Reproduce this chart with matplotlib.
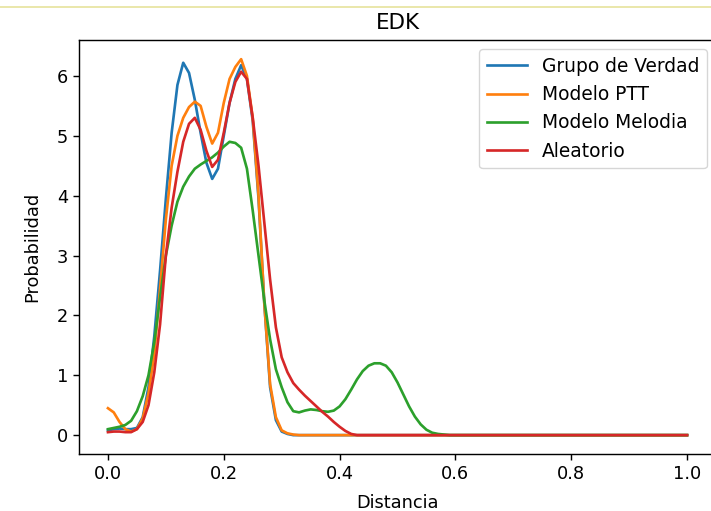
import numpy as np
import matplotlib
matplotlib.use("Agg")
import matplotlib.pyplot as plt
from matplotlib.lines import Line2D

x_vals = [round(0.01 * i, 2) for i in range(61)] + [1.0]

grupo_verdad = [0.08, 0.10, 0.11, 0.10, 0.10, 0.12, 0.30, 0.80, 1.65, 2.75,
                3.95, 5.05, 5.85, 6.22, 6.05, 5.60, 5.05, 4.55, 4.28, 4.45,
                5.00, 5.55, 5.95, 6.18, 5.95, 5.25, 3.95, 2.20, 0.80, 0.25,
                0.06, 0.02] + [0.0] * 30
modelo_ptt = [0.45, 0.38, 0.22, 0.10, 0.06, 0.10, 0.28, 0.70, 1.35, 2.45,
              3.60, 4.50, 5.00, 5.30, 5.48, 5.57, 5.50, 5.15, 4.87, 5.05,
              5.55, 5.95, 6.15, 6.28, 6.00, 5.30, 4.00, 2.20, 0.85, 0.30,
              0.08, 0.03, 0.01] + [0.0] * 29
modelo_melodia = [0.10, 0.12, 0.14, 0.17, 0.24, 0.40, 0.65, 1.00, 1.55, 2.30,
                  3.00, 3.50, 3.90, 4.15, 4.32, 4.45, 4.52, 4.58, 4.64, 4.72,
                  4.82, 4.90, 4.88, 4.80, 4.45, 3.75, 3.00, 2.25, 1.60, 1.10,
                  0.80, 0.55, 0.40, 0.38, 0.41, 0.43, 0.42, 0.40, 0.39, 0.41,
                  0.48, 0.60, 0.76, 0.93, 1.07, 1.16, 1.20, 1.20, 1.16, 1.05,
                  0.88, 0.68, 0.48, 0.31, 0.18, 0.09, 0.04, 0.02, 0.01] + [0.0] * 3
aleatorio = [0.05, 0.06, 0.06, 0.05, 0.05, 0.10, 0.22, 0.50, 1.05, 1.85,
             3.00, 3.80, 4.40, 4.90, 5.20, 5.30, 5.10, 4.75, 4.48, 4.60,
             5.05, 5.55, 5.90, 6.07, 5.95, 5.30, 4.50, 3.55, 2.60, 1.80,
             1.30, 1.05, 0.87, 0.76, 0.66, 0.57, 0.48, 0.39, 0.31, 0.22,
             0.14, 0.07, 0.02] + [0.0] * 19

labels = ["Grupo de Verdad", "Modelo PTT", "Modelo Melodia", "Aleatorio"]
x_ticks = [0.0, 0.2, 0.4, 0.6, 0.8, 1.0]
y_ticks = [0, 1, 2, 3, 4, 5, 6]

s = 1.28
plt.rcParams['font.family'] = ['DejaVu Sans']
plt.rcParams['font.size'] = 10 * s

W, H = 711, 511
fig = plt.figure(figsize=(W / 100, H / 100), dpi=100)
left, right, top, bottom = 79, 716, 40, 454
ax = fig.add_axes([left / W, (H - bottom) / H, (right - left) / W, (bottom - top) / H])

for ys, lab in zip([grupo_verdad, modelo_ptt, modelo_melodia, aleatorio], labels):
    ax.plot(x_vals, ys, label=lab, linewidth=1.5 * s)

ax.set_xlim(-0.05, 1.05)
ax.set_ylim(-0.315, 6.6)
ax.set_xticks(x_ticks)
ax.set_yticks(y_ticks)
ax.tick_params(width=0.8 * s, length=3.5 * s, labelsize=10 * s)
for sp in ax.spines.values():
    sp.set_linewidth(0.8 * s)
ax.set_title("EDK", fontsize=12 * s, pad=8)
ax.set_xlabel("Distancia", fontsize=10 * s, labelpad=8)
ax.set_ylabel("Probabilidad", fontsize=10 * s, labelpad=11)
ax.legend(loc="upper right", fontsize=10.5 * s, handlelength=2.15, labelspacing=0.5)

fig.add_artist(Line2D([0, 1], [1 - 7 / H, 1 - 7 / H], transform=fig.transFigure,
                      color="#e6e39c", linewidth=1.2))

fig.savefig("out.png", dpi=100)
